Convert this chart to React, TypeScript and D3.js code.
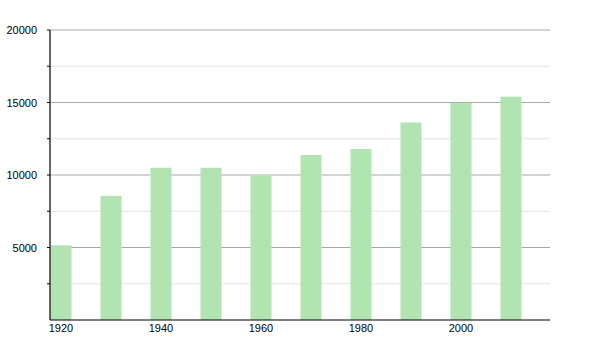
import React from "react";
import * as d3 from "d3";

const years = [1920, 1930, 1940, 1950, 1960, 1970, 1980, 1990, 2000, 2010];
const population = [5150, 8560, 10500, 10500, 9970, 11380, 11790, 13620, 14980, 15400];
const majorTicks = [5000, 10000, 15000, 20000];
const minorTicks = [2500, 7500, 12500, 17500];
const xTickYears = [1920, 1940, 1960, 1980, 2000];

export default function App() {
  const W = 600, H = 350;
  const left = 50, right = 550, top = 30, bottom = 320;
  const x = d3.scaleLinear().domain([1920, 2020]).range([left, right]);
  const y = d3.scaleLinear().domain([0, 20000]).range([bottom, top]);
  const barW = 21;
  const font = "Liberation Sans, Arial, sans-serif";
  return (
    <svg width={W} height={H} style={{ position: "absolute", left: 0, top: 0, background: "#fff" }}>
      {minorTicks.map((t) => (
        <g key={"mi" + t}>
          <line x1={left} x2={right} y1={y(t)} y2={y(t)} stroke="#e4e4e4" strokeWidth={1} />
          <line x1={left - 3} x2={left} y1={y(t)} y2={y(t)} stroke="#000" strokeWidth={1} />
        </g>
      ))}
      {majorTicks.map((t) => (
        <g key={"ma" + t}>
          <line x1={left} x2={right} y1={y(t)} y2={y(t)} stroke="#a8a8a8" strokeWidth={1} />
          <line x1={left - 3} x2={left} y1={y(t)} y2={y(t)} stroke="#000" strokeWidth={1} />
          <text x={37} y={y(t) + 4} textAnchor="end" fontFamily={font} fontSize={11} fill="#000">
            {t}
          </text>
        </g>
      ))}
      {years.map((yr, i) => (
        <rect
          key={yr}
          x={x(yr) + 0.5}
          y={y(population[i])}
          width={barW}
          height={bottom - y(population[i])}
          fill="#b1e4b1"
        />
      ))}
      <line x1={left} x2={left} y1={top} y2={bottom} stroke="#000" strokeWidth={1.2} />
      <line x1={left} x2={right} y1={bottom} y2={bottom} stroke="#000" strokeWidth={1.2} />
      {xTickYears.map((yr) => (
        <text key={yr} x={x(yr) + 11} y={bottom + 12} textAnchor="middle" fontFamily={font} fontSize={11} fill="#000">
          {yr}
        </text>
      ))}
    </svg>
  );
}
